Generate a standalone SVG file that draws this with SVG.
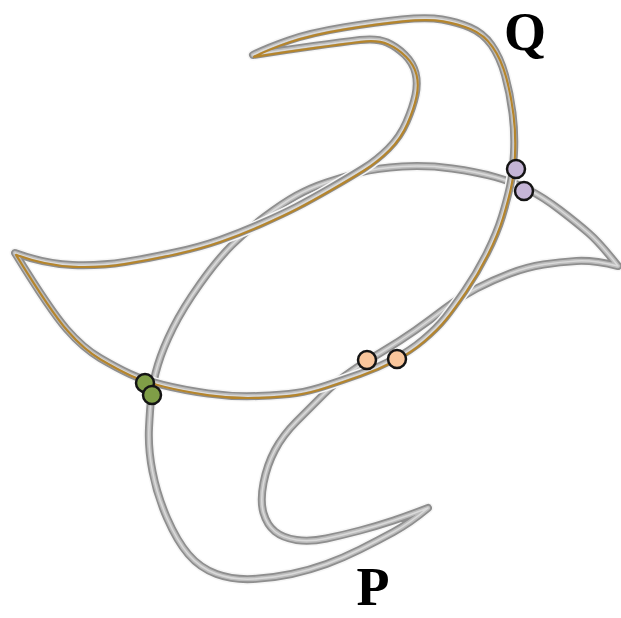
<svg xmlns="http://www.w3.org/2000/svg" xmlns:xlink="http://www.w3.org/1999/xlink" width="621" height="618" viewBox="0 0 621 618">
<style>
.halo{fill:none;stroke:#f6f6f6;stroke-width:11;stroke-linejoin:round;stroke-linecap:round}
.tube{fill:none;stroke:#8e8e8e;stroke-width:8;stroke-linejoin:round;stroke-linecap:round}
.shine{fill:none;stroke:#bcbcbc;stroke-width:4.4;stroke-linejoin:round;stroke-linecap:round}
.glint{fill:none;stroke:#dadada;stroke-width:1.5;stroke-linejoin:round;stroke-linecap:round}
.gold{fill:none;stroke:#b5852c;stroke-width:2.2;stroke-linejoin:round;stroke-linecap:round}
.dot{stroke:#141414;stroke-width:2.5}
.lbl{font-family:"Liberation Serif","DejaVu Serif",serif;font-weight:bold;fill:#000;text-anchor:middle}
</style>
<defs>
<path id="pP" d="M618,266 Q593,260 576.5,261 Q560,262 543.5,264.5 Q527,267 510,273.5 Q493,280 476.5,288.5 Q460,297 445,308.5 Q430,320 415,330.5 Q400,341 382.5,351.5 Q365,362 351,371.5 Q337,381 323.5,394.5 Q310,408 296.5,421.5 Q283,435 275,450 Q267,465 263.5,483 Q260,501 263.5,513 Q267,525 275,531.5 Q283,538 296.5,540 Q310,542 326.5,538.5 Q343,535 360,530.5 Q377,526 393.5,520.5 Q410,515 428,508 Q410,523 393.5,532 Q377,541 360,549.5 Q343,558 326.5,564 Q310,570 291.5,574 Q273,578 253,579 Q233,580 216.5,574 Q200,568 188.5,554.5 Q177,541 167,518 Q157,495 152.5,471.5 Q148,448 149,428 Q150,408 151.5,394.5 Q153,381 158,364.5 Q163,348 173,328 Q183,308 200,284 Q217,260 232,245 Q247,230 265,216.5 Q283,203 296.5,195.5 Q310,188 326.5,182.5 Q343,177 360,172.5 Q377,168 402,166.5 Q427,165 452,168.5 Q477,172 495,177 Q513,182 528,189.5 Q543,197 560,210 Q577,223 588.5,233 Q600,243 618,266 Z"/>
<path id="pQ" d="M15,253 Q50,310 66.5,329 Q83,348 100,358 Q117,368 130,374 Q143,380 163,385 Q183,390 208,393.5 Q233,397 258,396 Q283,395 296.5,393 Q310,391 326.5,385.5 Q343,380 360,374 Q377,368 393.5,359.5 Q410,351 423.5,339.5 Q437,328 445,318 Q453,308 465,290.5 Q477,273 487,253 Q497,233 502,216.5 Q507,200 510,186.5 Q513,173 514,153 Q515,133 512.5,113 Q510,93 505,75 Q500,57 491.5,45 Q483,33 470,27.5 Q457,22 442,19.5 Q427,17 402,19.5 Q377,22 343.5,27.5 Q310,33 288.5,40.5 Q267,48 253,55 Q285,50 314,46 Q343,42 360,40 Q377,38 387,42.5 Q397,47 405,55 Q413,63 415.5,73 Q418,83 415.5,95 Q413,107 406.5,122 Q400,137 388.5,148.5 Q377,160 363.5,168.5 Q350,177 330,188.5 Q310,200 296.5,207 Q283,214 261.5,223.5 Q240,233 220,240 Q200,247 175,252.5 Q150,258 125,262 Q100,266 72.5,265 Q45,264 15,253 Z"/>
</defs>
<rect width="621" height="618" fill="#fff"/>
<g id="curve-P">
<use xlink:href="#pP" class="halo"/>
<use xlink:href="#pP" class="tube"/>
<use xlink:href="#pP" class="shine"/>
<use xlink:href="#pP" class="glint"/>
</g>
<g id="curve-Q">
<use xlink:href="#pQ" class="halo"/>
<use xlink:href="#pQ" class="tube"/>
<use xlink:href="#pQ" class="shine"/>
<use xlink:href="#pQ" class="glint"/>
<use xlink:href="#pQ" class="gold" transform="translate(1,1.8)"/>
</g>
<g id="intersections">
<g id="purple-pair" fill="#c5b5d6">
<circle class="dot" cx="516" cy="169" r="9"/>
<circle class="dot" cx="524" cy="191" r="9"/>
</g>
<g id="orange-pair" fill="#f9c69c">
<circle class="dot" cx="367" cy="360" r="9"/>
<circle class="dot" cx="397" cy="359" r="9"/>
</g>
<g id="green-pair" fill="#7f9e47">
<circle class="dot" cx="145" cy="383" r="9"/>
<circle class="dot" cx="152" cy="395" r="9"/>
</g>
</g>
<g id="labels">
<text class="lbl" x="525" y="50" font-size="54">Q</text>
<text class="lbl" x="373" y="605" font-size="54">P</text>
</g>
</svg>
